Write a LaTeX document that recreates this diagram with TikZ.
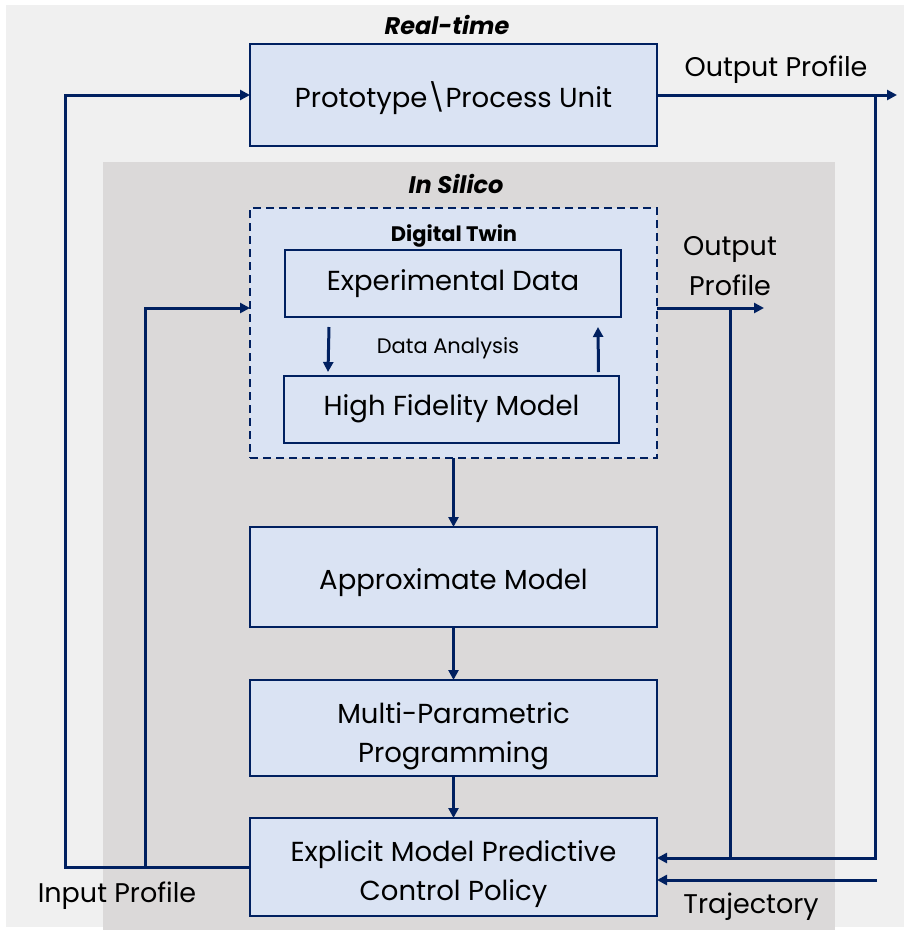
\documentclass[tikz,border=0pt]{standalone}
\usepackage{fontspec}
\setmainfont{Poppins}
\usetikzlibrary{arrows.meta,calc}
\definecolor{navy}{HTML}{002060}
\definecolor{boxfill}{HTML}{DAE3F3}
\definecolor{pagebg}{HTML}{F0F0F0}
\definecolor{silico}{HTML}{DBD9D9}
\newcommand\fsz[2]{\fontsize{#1}{#2}\selectfont}

\begin{document}
\begin{tikzpicture}[x=1pt,y=-1pt,
  blk/.style={draw=navy, line width=2.2pt, fill=boxfill, inner sep=0pt, outer sep=0pt},
  btxt/.style={text=black, inner sep=0pt, align=center, font=\fsz{27.5}{39}},
  twin/.style={draw=navy, line width=2.2pt, dash pattern=on 8pt off 5pt, fill=boxfill,
               inner sep=0pt, outer sep=0pt},
  ln/.style={draw=navy, line width=3pt},
  arr/.style={ln, -{Triangle[length=10pt,width=10pt]}},
  lbl/.style={text=black, inner sep=0pt, align=center, font=\fsz{27}{40}},
  ttl/.style={text=black, inner sep=0pt, font=\fsz{24}{28}\bfseries\itshape}]

  % canvas and the two shaded areas
  \useasboundingbox (0,0) rectangle (916,930);
  \fill[pagebg] (6,5) rectangle (904,927);
  \fill[silico] (103,162) rectangle (835,930);

  % titles
  \node[ttl] (rt) at (447,25) {Real-time};
  \node[ttl] (is) at (456,184) {In Silico};

  % blocks
  \node[blk, minimum width=407pt, minimum height=102pt] (proto) at (453.5,95) {};
  \node[twin, minimum width=407pt, minimum height=250pt] (dt) at (453.5,333) {};
  \node[blk, minimum width=336pt, minimum height=67pt] (ed) at (453,283.5) {};
  \node[blk, minimum width=335pt, minimum height=67pt] (hf) at (451.5,409.5) {};
  \node[blk, minimum width=407pt, minimum height=100pt] (am) at (453.5,577) {};
  \node[blk, minimum width=407pt, minimum height=96pt] (mp) at (453.5,728) {};
  \node[blk, minimum width=407pt, minimum height=98pt] (ep) at (453.5,867) {};

  % block texts
  \node[btxt] (protot) at ([yshift=-3pt]proto.center) {Prototype\textbackslash Process Unit};
  \node[text=black, inner sep=0pt, font=\fsz{21}{24}\bfseries] (dtl) at (454,236) {Digital Twin};
  \node[btxt] (edt) at (ed.center) {Experimental Data};
  \node[btxt] (hft) at ([yshift=1pt]hf.center) {High Fidelity Model};
  \node[text=black, inner sep=0pt, font=\fsz{21}{24}] (da) at (448,348) {Data Analysis};
  \node[btxt] (amt) at ([yshift=-6pt]am.center) {Approximate Model};
  \node[btxt] (mpt) at ([yshift=-8pt]mp.center) {Multi-Parametric\\Programming};
  \node[btxt] (ept) at ([yshift=-7pt]ep.center) {Explicit Model Predictive\\Control Policy};

  % free labels
  \node[lbl] (outA) at (776,70) {Output Profile};
  \node[lbl] (outB) at (730,266) {Output\\Profile};
  \node[lbl] (inp) at (117,896) {Input Profile};
  \node[lbl] (trj) at (751,907) {Trajectory};

  % junctions and free ends
  \coordinate (lft) at (65,867);
  \coordinate (inl) at (145,867);
  \coordinate (oR) at (897,95);
  \coordinate (oj) at (875,95);
  \coordinate (iR) at (764,308);
  \coordinate (ij) at (730,308);
  \coordinate (tr) at (877,880);

  % main chain
  \draw[arr] (dt.south) -- (am.north);
  \draw[arr] (am.south) -- (mp.north);
  \draw[arr] (mp.south) -- (ep.north);

  % data analysis loop
  \draw[arr] ([shift={(44,10)}]ed.south west) -- ([shift={(44,-4)}]hf.north west);
  \draw[arr] ([shift={(147,-4)}]hf.north) -- ([shift={(145,10)}]ed.south);

  % input profile feeds
  \draw[arr] (ep.west) -- (lft) |- (proto.west);
  \draw[arr] (inl) |- ([yshift=25pt]dt.west);

  % output profile feedback
  \draw[arr] (proto.east) -- (oR);
  \draw[arr] (oj) |- ([yshift=9pt]ep.east);
  \draw[arr] ([yshift=25pt]dt.east) -- (iR);
  \draw[ln] (ij) -- (730,858);

  % reference trajectory
  \draw[arr] (tr) -- ([yshift=-13pt]ep.east);
\end{tikzpicture}
\end{document}
